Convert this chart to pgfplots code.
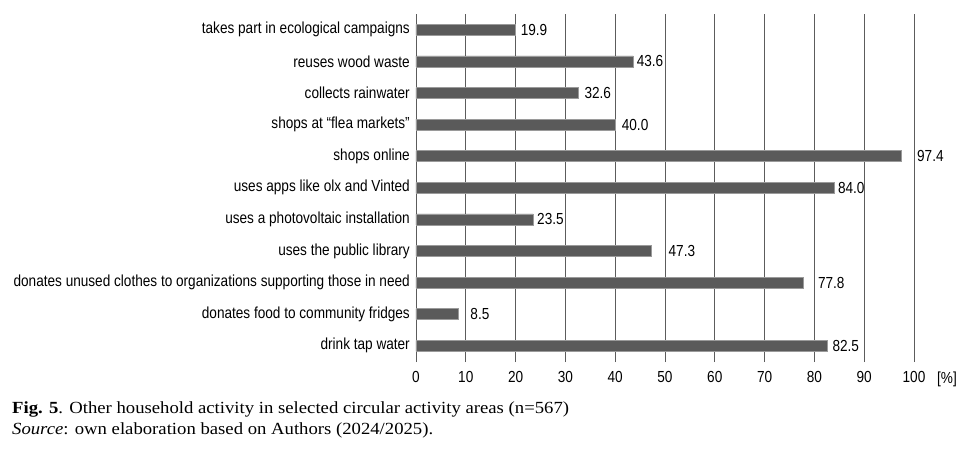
\documentclass[border=0pt]{standalone}
\usepackage{fontspec}
\setmainfont[FakeStretch=0.85]{Liberation Sans}
\newfontfamily\capfont[FakeStretch=1.1]{Liberation Serif}
\usepackage{pgfplots}
\pgfplotsset{compat=1.18}
\usepackage{pgfplotstable}

\definecolor{barfill}{HTML}{5A5A5A}
\definecolor{baredge}{HTML}{9A9A9A}
\definecolor{gridgray}{HTML}{5C5C5C}

% pos: row (0 = bottom), value: share of households [%], labx: where the value label starts
\pgfplotstableread{
pos value labx
10 19.9 21.0
9  43.6 44.3
8  32.6 33.8
7  40.0 41.3
6  97.4 100.6
5  84.0 84.7
4  23.5 24.3
3  47.3 50.7
2  77.8 80.7
1  8.5  10.9
0  82.5 83.6
}\activities

\begin{document}
\begin{tikzpicture}
\useasboundingbox (-416bp,-87bp) rectangle (549bp,362bp);
\begin{axis}[
  at={(0,0)}, anchor=south west,
  scale only axis,
  width=498bp, height=348.4bp,
  xmin=0, xmax=100,
  ymin=-0.513, ymax=10.513,
  axis line style={draw=none},
  major tick length=0pt,
  xtick={0,10,...,100},
  ytick={0,...,10},
  yticklabels={
    drink tap water,
    donates food to community fridges,
    donates unused clothes to organizations supporting those in need,
    uses the public library,
    uses a photovoltaic installation,
    uses apps like olx and Vinted,
    shops online,
    shops at “flea markets”,
    collects rainwater,
    reuses wood waste,
    takes part in ecological campaigns},
  xmajorgrids,
  grid style={draw=gridgray, line width=0.8bp},
  tick label style={font=\fontsize{16bp}{19bp}\selectfont, inner sep=0pt},
  xticklabel shift=9.5bp,
  yticklabel shift=6bp,
  /pgf/number format/assume math mode=true,
  clip=false,
]
\addplot[xbar, bar width=11bp, fill=barfill, draw=baredge, line width=0.6bp]
  table[x=value, y=pos] {\activities};
\addplot[draw=none, mark=none,
  nodes near coords,
  point meta=explicit,
  nodes near coords style={anchor=west, inner sep=0pt,
    font=\fontsize{16bp}{19bp}\selectfont,
    /pgf/number format/.cd, fixed, fixed zerofill, precision=1, assume math mode=true},
  ] table[x=labx, y=pos, meta=value] {\activities};
\end{axis}
\node[anchor=base west, inner sep=0pt, font=\fontsize{16bp}{19bp}\selectfont]
  at (521bp,-21bp) {[\%]};
\node[anchor=base west, inner sep=0pt, font=\capfont\fontsize{17bp}{20bp}\selectfont]
  at (-404bp,-51.5bp) {\textbf{Fig. 5}. Other household activity in selected circular activity areas (n=567)};
\node[anchor=base west, inner sep=0pt, font=\capfont\fontsize{17bp}{20bp}\selectfont]
  at (-404bp,-72bp) {\textit{Source}: own elaboration based on Authors (2024/2025).};
\end{tikzpicture}
\end{document}
